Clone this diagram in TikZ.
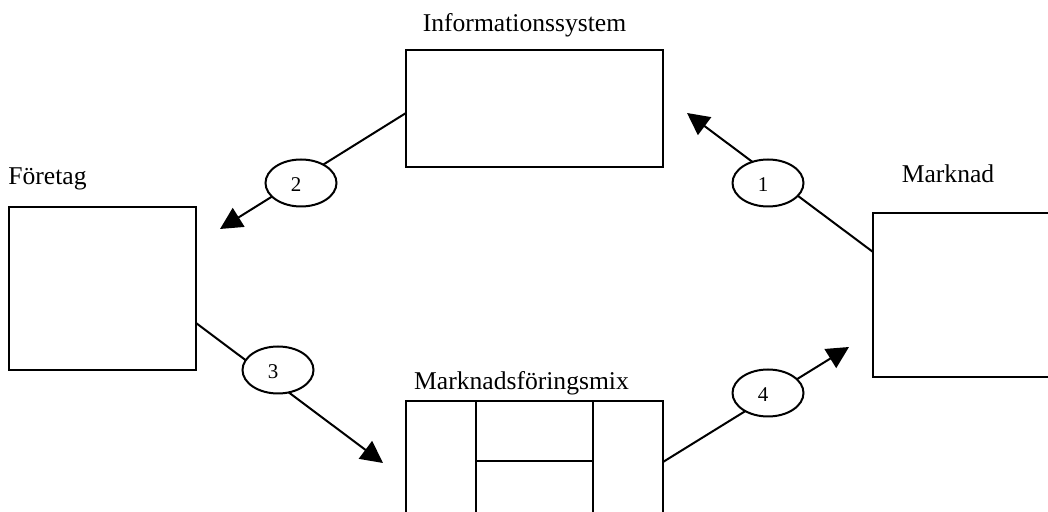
\documentclass[tikz,border=0pt]{standalone}
\usepackage{fontspec}
\setmainfont{Liberation Serif}
\usetikzlibrary{arrows.meta,shapes.geometric}
\begin{document}
\begin{tikzpicture}[x=0.5pt,y=-0.5pt,
  box/.style={draw,line width=1pt,rectangle,inner sep=0pt},
  rule/.style={line width=1pt},
  flow/.style={line width=1pt,-{Triangle[length=11pt,width=11pt]}},
  badge/.style={ellipse,draw,fill=white,line width=1pt,
    minimum width=35.5pt,minimum height=23.5pt,inner sep=0pt},
  title/.style={font=\fontsize{12.8}{15}\selectfont,inner sep=0pt},
  num/.style={font=\fontsize{10.5}{12}\selectfont,inner sep=0pt,xshift=-2.5pt,yshift=-1pt}]
\useasboundingbox (0,0) rectangle (1048,512);
\clip (0,0) rectangle (1048,512);

% the four blocks
\node[box,minimum width=128.5pt,minimum height=58.5pt] (info) at (534.5,108.5) {};
\node[box,minimum width=93.5pt,minimum height=81.5pt] (firm) at (102.5,288.5) {};
\node[box,minimum width=93.5pt,minimum height=82pt] (mkt) at (966.5,295) {};
\node[box,minimum width=128.5pt,minimum height=64.5pt] (mix) at (534.5,465.5) {};

% partitions of the marketing mix
\draw[rule] (476,401) -- (476,540);
\draw[rule] (593,401) -- (593,540);
\draw[rule] (476,461) -- (593,461);

% titles
\node[title,anchor=base] (tinfo) at (524.5,32) {Informationssystem};
\node[title,anchor=base west] (tfirm) at (8,185) {Företag};
\node[title,anchor=base] (tmkt) at (948,183) {Marknad};
\node[title,anchor=base] (tmix) at (521.5,390) {Marknadsföringsmix};

% connector end points
\coordinate (s1) at (873,252);
\coordinate (e1) at (687,113);
\coordinate (s2) at (406,113);
\coordinate (e2) at (220,229);
\coordinate (s3) at (196,323);
\coordinate (e3) at (383,463);
\coordinate (s4) at (663,462);
\coordinate (e4) at (849,347);

\draw[flow] (s1) -- (e1);
\draw[flow] (s2) -- (e2);
\draw[flow] (s3) -- (e3);
\draw[flow] (s4) -- (e4);

% numbered steps
\node[badge,label={[num]center:1}] (n1) at (768,183) {};
\node[badge,label={[num]center:2}] (n2) at (301,183) {};
\node[badge,label={[num]center:3}] (n3) at (278,370) {};
\node[badge,label={[num]center:4}] (n4) at (768,393) {};
\end{tikzpicture}
\end{document}
